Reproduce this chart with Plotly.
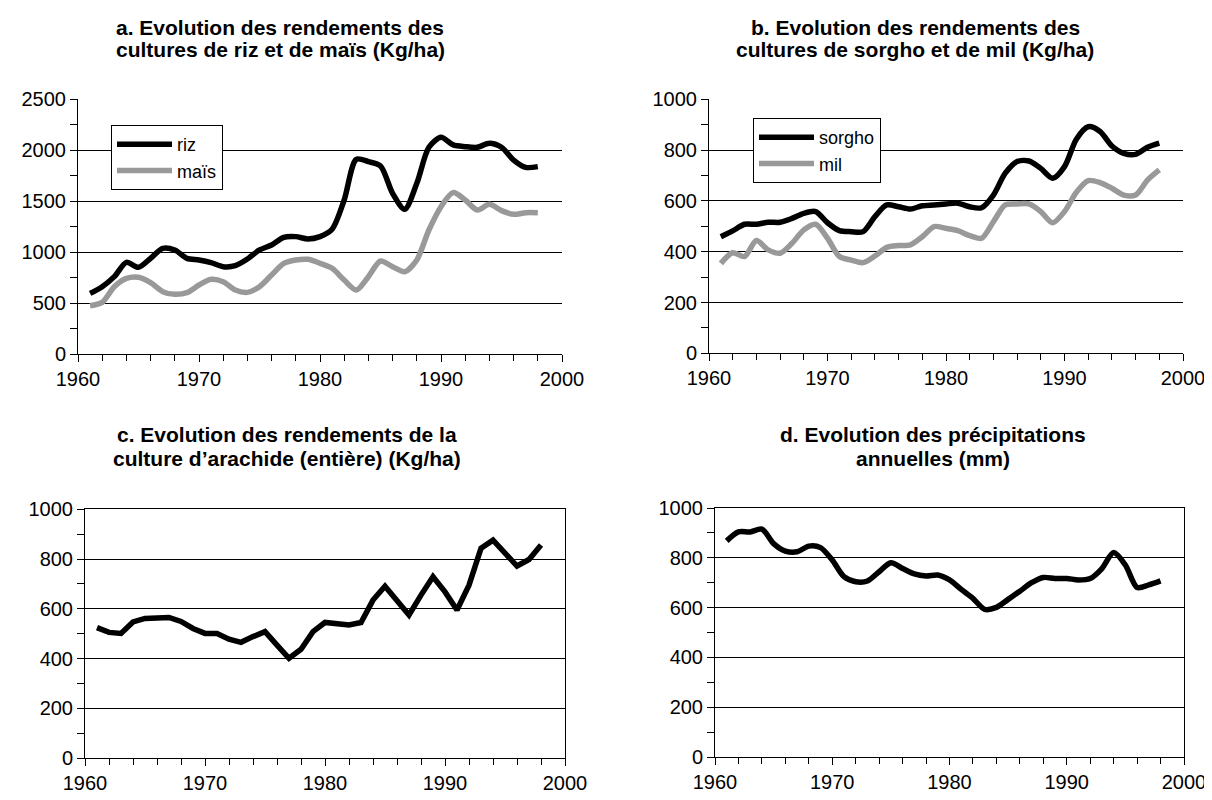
import plotly.graph_objects as go

years = list(range(1961, 1999))

riz = [595, 661, 759, 900, 851, 939, 1037, 1021, 939, 923, 897, 857, 867, 932, 1021, 1070, 1145, 1152, 1129, 1152,
       1224, 1512, 1911, 1888, 1845, 1577, 1420, 1675, 2029, 2127, 2052, 2035, 2029, 2068, 2029, 1904, 1832, 1839]
mais = [474, 507, 661, 743, 753, 700, 612, 586, 602, 677, 733, 710, 628, 605, 661, 775, 890, 923, 929, 890,
        841, 726, 628, 759, 913, 857, 808, 923, 1217, 1446, 1584, 1512, 1413, 1469, 1407, 1371, 1387, 1387]
sorgho = [459, 482, 508, 508, 516, 516, 531, 551, 558, 514, 483, 479, 479, 538, 584, 577, 568, 581, 584, 588,
          591, 577, 573, 623, 709, 755, 757, 728, 689, 735, 843, 892, 873, 816, 787, 783, 811, 827]
mil = [354, 396, 381, 444, 407, 394, 433, 486, 508, 453, 381, 367, 357, 383, 417, 424, 427, 459, 499, 492,
       483, 463, 453, 518, 584, 588, 588, 558, 514, 558, 634, 680, 672, 650, 623, 623, 682, 722]
arachide = [524, 505, 501, 547, 561, 565, 565, 549, 521, 501, 501, 478, 465, 488, 508, 454, 401, 437, 508, 545,
            541, 535, 545, 635, 691, 635, 575, 655, 729, 668, 595, 695, 843, 876, 825, 772, 798, 856]
precip = [868, 904, 904, 915, 857, 827, 824, 847, 841, 791, 724, 704, 707, 744, 780, 757, 735, 727, 731, 711,
          673, 637, 593, 601, 633, 666, 700, 721, 717, 717, 711, 717, 757, 821, 771, 681, 691, 707]

title_lines = [
    ("a. Evolution des rendements des", "cultures de riz et de maïs (Kg/ha)"),
    ("b. Evolution des rendements des", "cultures de sorgho et de mil (Kg/ha)"),
    ("c. Evolution des rendements de la", "culture d’arachide (entière) (Kg/ha)"),
    ("d. Evolution des précipitations", "annuelles (mm)"),
]

OFF = 8  # default body margin of the html page
W, H = 1212 - OFF, 800 - OFF
FONT = "Liberation Sans, Arial, sans-serif"
BLACK = "#000000"
GRAY = "#999999"

# page-pixel boxes: (left, right, top, bottom)
boxes = {
    1: (78, 562, 99.3, 354),
    2: (709, 1183, 99.3, 353.3),
    3: (85, 565, 509.3, 758),
    4: (715, 1184, 508, 757),
}


def px_x(v):
    return (v - OFF) / W


def px_y(v):
    return 1 - (v - OFF) / H


def dom(b):
    l, r, t, bt = b
    return [px_x(l), px_x(r)], [px_y(bt), px_y(t)]


fig = go.Figure()

lw = 5.5
sm = 0.8
fig.add_trace(go.Scatter(x=years, y=riz, name="riz", mode="lines",
                         line=dict(color=BLACK, width=lw, shape="spline", smoothing=sm),
                         xaxis="x", yaxis="y", legend="legend"))
fig.add_trace(go.Scatter(x=years, y=mais, name="maïs", mode="lines",
                         line=dict(color=GRAY, width=lw, shape="spline", smoothing=sm),
                         xaxis="x", yaxis="y", legend="legend"))
fig.add_trace(go.Scatter(x=years, y=sorgho, name="sorgho", mode="lines",
                         line=dict(color=BLACK, width=lw, shape="spline", smoothing=sm),
                         xaxis="x2", yaxis="y2", legend="legend2"))
fig.add_trace(go.Scatter(x=years, y=mil, name="mil", mode="lines",
                         line=dict(color=GRAY, width=lw, shape="spline", smoothing=sm),
                         xaxis="x2", yaxis="y2", legend="legend2"))
fig.add_trace(go.Scatter(x=years, y=arachide, name="arachide", mode="lines", showlegend=False,
                         line=dict(color=BLACK, width=lw),
                         xaxis="x3", yaxis="y3"))
fig.add_trace(go.Scatter(x=years, y=precip, name="précipitations", mode="lines", showlegend=False,
                         line=dict(color=BLACK, width=lw, shape="spline", smoothing=sm),
                         xaxis="x4", yaxis="y4"))

yranges = {1: (2500, 500, 250), 2: (1000, 200, 100), 3: (1000, 200, 100), 4: (1000, 200, 100)}
layout = {}
for i in range(1, 5):
    xd, yd = dom(boxes[i])
    sfx = "" if i == 1 else str(i)
    ymax, dt, mdt = yranges[i]
    mirror = i >= 3
    layout["xaxis" + sfx] = dict(
        domain=xd, anchor="y" + sfx, range=[1960, 2000], tick0=1960, dtick=10,
        showgrid=False, zeroline=False, showline=True, linecolor=BLACK, linewidth=1,
        mirror=mirror, ticks="outside", ticklen=7, tickcolor=BLACK,
        minor=dict(dtick=2, tick0=1960, ticks="outside", ticklen=6, tickcolor=BLACK, showgrid=False),
        tickfont=dict(family=FONT, size=20, color=BLACK), fixedrange=True, automargin=False,
    )
    layout["yaxis" + sfx] = dict(
        domain=yd, anchor="x" + sfx, range=[0, ymax], tick0=0, dtick=dt,
        showgrid=True, gridcolor=BLACK, gridwidth=1, zeroline=False,
        showline=True, linecolor=BLACK, linewidth=1, mirror=mirror,
        ticks="outside", ticklen=7, tickcolor=BLACK,
        minor=dict(dtick=mdt, ticks="outside", ticklen=7, tickcolor=BLACK, showgrid=False),
        tickfont=dict(family=FONT, size=20, color=BLACK), fixedrange=True, automargin=False,
    )

annotations = []
title_pos = [(280, 27, 49), (915, 27, 49), (287, 434, 458), (933, 434, 458)]
for (l1, l2), (cx, y1, y2) in zip(title_lines, title_pos):
    for txt, yy in ((l1, y1), (l2, y2)):
        annotations.append(dict(text="<b>" + txt + "</b>", x=px_x(cx), y=px_y(yy),
                                xref="paper", yref="paper", xanchor="center", yanchor="middle",
                                showarrow=False, align="center",
                                font=dict(family=FONT, size=21, color=BLACK)))

fig.update_layout(
    width=W, height=H, margin=dict(l=0, r=0, t=0, b=0, autoexpand=False),
    paper_bgcolor="white", plot_bgcolor="white",
    font=dict(family=FONT, color=BLACK),
    annotations=annotations,
    legend=dict(x=px_x(111), y=px_y(125), xanchor="left", yanchor="top",
                bordercolor=BLACK, borderwidth=1, bgcolor="white",
                font=dict(family=FONT, size=18, color=BLACK), itemwidth=55,
                tracegroupgap=0),
    legend2=dict(x=px_x(753), y=px_y(118), xanchor="left", yanchor="top",
                 bordercolor=BLACK, borderwidth=1, bgcolor="white",
                 font=dict(family=FONT, size=18, color=BLACK), itemwidth=55,
                 tracegroupgap=0),
    **layout,
)

fig.write_html("out.html")
